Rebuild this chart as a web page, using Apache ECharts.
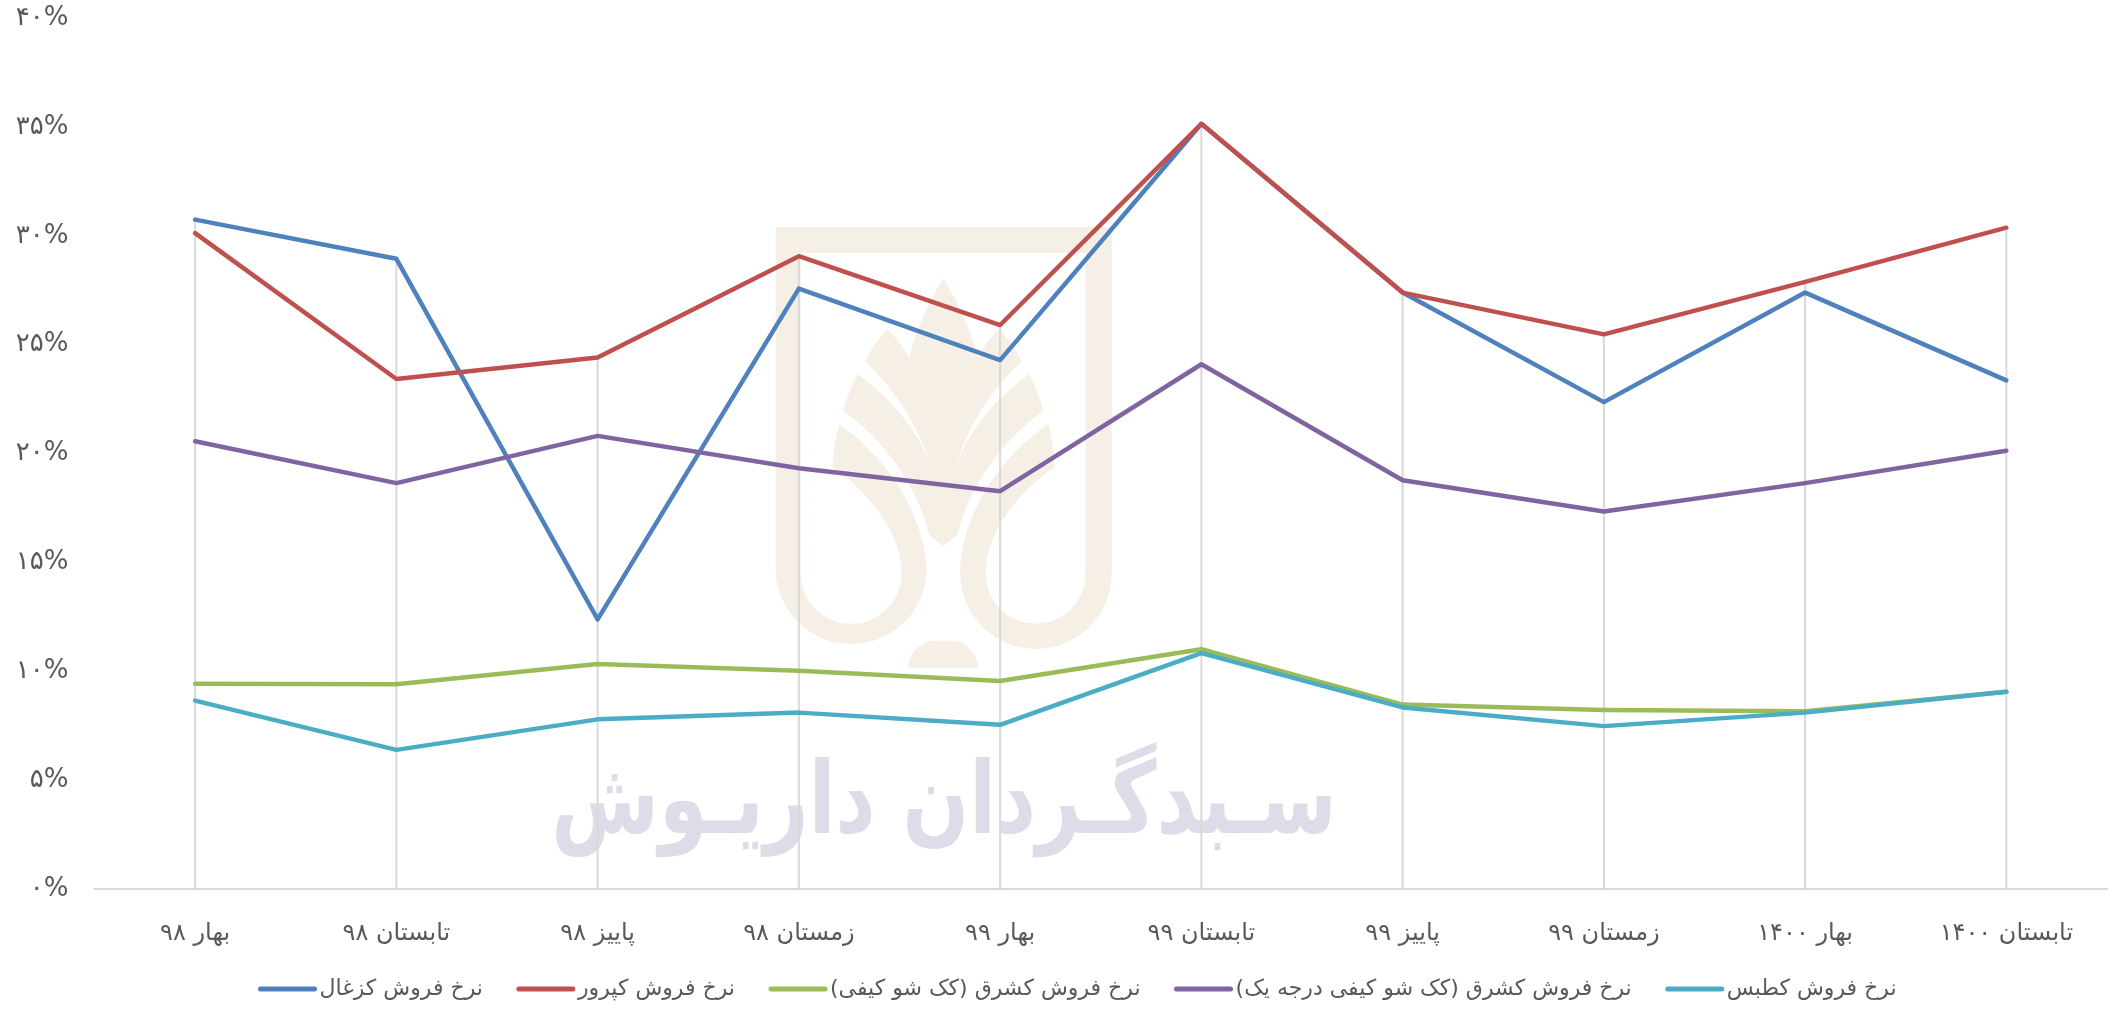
<!DOCTYPE html>
<html dir="rtl">
<head>
<meta charset="utf-8">
<title>نرخ فروش</title>
<script src="https://cdn.jsdelivr.net/npm/echarts@6/dist/echarts.min.js"></script>
<style>
html, body { margin: 0; padding: 0; background: #fff; overflow: hidden; }
#chart { width: 2118px; height: 1009px; }
</style>
</head>
<body>
<div id="chart"></div>
<script>
const categories = ['بهار ۹۸', 'تابستان ۹۸', 'پاییز ۹۸', 'زمستان ۹۸', 'بهار ۹۹', 'تابستان ۹۹', 'پاییز ۹۹', 'زمستان ۹۹', 'بهار ۱۴۰۰', 'تابستان ۱۴۰۰'];
const yTickLabels = ['۰%', '۵%', '۱۰%', '۱۵%', '۲۰%', '۲۵%', '۳۰%', '۳۵%', '۴۰%'];

const zoghal = [30.74, 28.94, 12.38, 27.57, 24.29, 35.14, 27.39, 22.36, 27.39, 23.36];
const kaprovar = [30.12, 23.42, 24.41, 29.06, 25.9, 35.14, 27.39, 25.47, 27.88, 30.37];
const kesharghSheet = [9.43, 9.40, 10.33, 10.02, 9.55, 11.01, 8.47, 8.22, 8.16, 9.06];
const kesharghGrade1 = [20.56, 18.64, 20.81, 19.32, 18.27, 24.1, 18.77, 17.34, 18.64, 20.13];
const katbas = [8.65, 6.39, 7.79, 8.10, 7.54, 10.83, 8.34, 7.48, 8.10, 9.06];

const seriesNames = ['نرخ فروش کزغال', 'نرخ فروش کپرور', 'نرخ فروش کشرق (کک شو کیفی)', 'نرخ فروش کشرق (کک شو کیفی درجه یک)', 'نرخ فروش کطبس'];
const seriesValues = [zoghal, kaprovar, kesharghSheet, kesharghGrade1, katbas];
const seriesColors = ['#4F81BD', '#C0504D', '#9BBB59', '#8064A2', '#4BACC6'];

// drop lines run from the highest point of each category down to the axis
const dropTops = categories.map((c, i) => Math.max(...seriesValues.map(v => v[i])));

const fontName = '"DejaVu Sans", sans-serif';

// watermark logo, drawn in the zoomed crop's coordinates
const logoFrame = 'M227 82 H1235 V1120 A227 227 0 0 1 781 1120 C781 950 900 770 1045 672 C1056 715 1063 760 1065 800 C950 880 857 1000 857 1120 A150 151 0 0 0 1157 1120 V158 H302 V1120 A151 151 0 0 0 605 1120 C605 1000 510 880 397 800 C399 760 406 715 418 672 C560 770 680 950 680 1120 A227 227 0 0 1 227 1120 Z';
const logoFlame = 'M730 235 C690 300 650 380 628 475 C610 440 590 415 562 388 C535 415 512 450 495 485 C590 570 670 700 697 820 C670 710 580 600 473 522 C455 555 440 595 430 632 C550 720 650 850 688 1005 L730 1038 L772 1005 C810 850 910 720 1030 632 C1020 595 1005 555 987 522 C880 600 790 710 763 820 C790 700 870 570 965 485 C948 450 925 415 897 388 C870 415 850 440 833 475 C810 380 770 300 730 235 Z';
const logoDome = 'M624 1405 C624 1355 670 1322 700 1322 H760 C790 1322 834 1355 834 1405 Z';

const logoParts = { logoFrame, logoFlame, logoDome };
Object.keys(logoParts).forEach(k => {
    echarts.graphic.registerShape(k, echarts.graphic.extendPath(logoParts[k]));
});

const chart = echarts.init(document.getElementById('chart'));

const option = {
    animation: false,
    textStyle: { fontFamily: fontName },
    graphic: {
        elements: [
            ...Object.keys(logoParts).map(k => ({
                type: k,
                z: -10,
                silent: true,
                x: 700,
                y: 200,
                scaleX: 1 / 3,
                scaleY: 1 / 3,
                style: { fill: '#F5EFE5' }
            })),
            {
                type: 'text',
                z: -9,
                silent: true,
                x: 944,
                y: 807,
                scaleX: 0.78,
                style: {
                    text: 'سـبدگـردان داریـوش',
                    fill: '#DEDCE9',
                    font: 'bold 100px "DejaVu Sans"',
                    align: 'center',
                    verticalAlign: 'middle'
                }
            }
        ]
    },
    legend: {
        left: 253,
        top: 973,
        data: seriesNames,
        itemWidth: 54,
        itemHeight: 14,
        itemGap: 33.5,
        // only the line in the key, no dot on it
        itemStyle: { opacity: 0 },
        lineStyle: { width: 5, cap: 'round' },
        textStyle: { color: '#595959', fontSize: 22, fontFamily: fontName }
    },
    grid: { left: 94.5, right: 11, top: 18, bottom: 120 },
    xAxis: {
        type: 'category',
        data: categories,
        axisTick: { show: false },
        axisLine: { lineStyle: { color: '#D9D9D9', width: 2 } },
        axisLabel: { color: '#595959', fontSize: 24, margin: 33 }
    },
    yAxis: {
        type: 'value',
        min: 0,
        max: 40,
        interval: 5,
        splitLine: { show: false },
        axisLine: { show: false },
        axisTick: { show: false },
        axisLabel: {
            color: '#595959',
            fontSize: 26,
            margin: 26,
            formatter: v => yTickLabels[v / 5]
        }
    },
    series: [
        {
            name: 'dropLines',
            type: 'bar',
            silent: true,
            barWidth: 2,
            itemStyle: { color: '#D9D9D9' },
            data: dropTops
        },
        ...seriesNames.map((name, i) => ({
            name: name,
            type: 'line',
            symbol: 'none',
            color: seriesColors[i],
            lineStyle: { width: 4.5, color: seriesColors[i], cap: 'round', join: 'round' },
            data: seriesValues[i]
        }))
    ]
};

chart.setOption(option);
</script>
</body>
</html>
